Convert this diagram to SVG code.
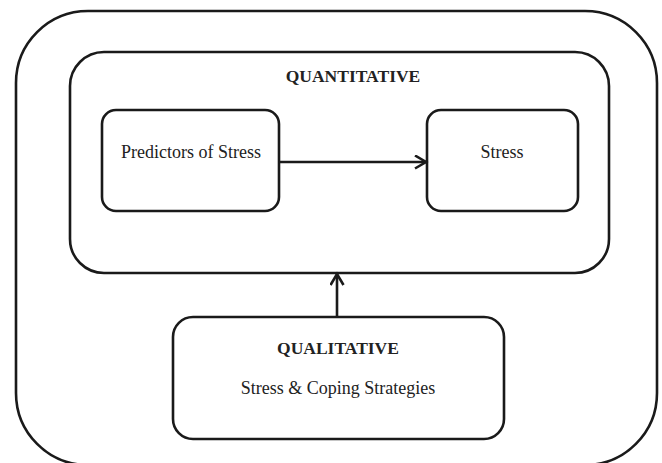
<svg xmlns="http://www.w3.org/2000/svg" width="662" height="463" viewBox="0 0 662 463">
<style>
.box{fill:none;stroke:#1a1a1a;stroke-width:2.6}
.t{font-family:"Liberation Serif",serif;font-size:18px;fill:#222;text-anchor:middle}
.b{font-weight:bold;font-size:17.5px}
.c{stroke:#1a1a1a;stroke-width:2.6;fill:none}
</style>
<defs>
<marker id="ah" markerWidth="16" markerHeight="16" refX="12.5" refY="7.5" orient="auto" markerUnits="userSpaceOnUse">
<path d="M1.5,1 L12.5,7.5 L1.5,14" fill="none" stroke="#1a1a1a" stroke-width="2.6"/>
</marker>
</defs>
<rect width="662" height="463" fill="#fff"/>
<g id="outer"><rect class="box" x="16" y="11" width="641" height="454" rx="72" ry="72"/></g>
<g id="quantitative">
<rect class="box" x="70" y="52" width="539" height="221" rx="34" ry="34"/>
<text class="t b" x="353" y="82">QUANTITATIVE</text>
</g>
<g id="predictors">
<rect class="box" x="102" y="110" width="177" height="101" rx="14" ry="14"/>
<text class="t" x="191" y="158">Predictors of Stress</text>
</g>
<g id="stress">
<rect class="box" x="427" y="110" width="151" height="101" rx="14" ry="14"/>
<text class="t" x="502" y="158">Stress</text>
</g>
<g id="qualitative">
<rect class="box" x="173" y="317" width="331" height="122" rx="20" ry="20"/>
<text class="t b" x="338" y="354">QUALITATIVE</text>
<text class="t" x="338" y="394">Stress &amp; Coping Strategies</text>
</g>
<g id="connectors">
<line class="c" x1="279" y1="162" x2="426" y2="162" marker-end="url(#ah)"/>
<line class="c" x1="337" y1="317" x2="337" y2="274" marker-end="url(#ah)"/>
</g>
</svg>
